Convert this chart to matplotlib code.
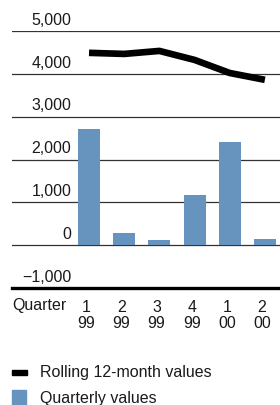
import numpy as np
import matplotlib.pyplot as plt
from matplotlib.patches import Rectangle

# Data
quarters = ['1', '2', '3', '4', '1', '2']
years = ['99', '99', '99', '99', '00', '00']
quarterly = [2720, 280, 110, 1160, 2400, 140]
rolling = [4490, 4465, 4535, 4325, 4020, 3860]
y_ticks = [-1000, 0, 1000, 2000, 3000, 4000, 5000]

plt.rcParams['font.family'] = ['Liberation Sans', 'DejaVu Sans']
fs = 11.5

W, H = 280, 406
fig = plt.figure(figsize=(W / 100, H / 100), dpi=100)

# axes box in pixel coordinates: x 12..280, y from 289 (-1000) to 32 (5000)
left, right, top, bottom = 12, 280, 32, 289
ax = fig.add_axes([left / W, 1 - bottom / H, (right - left) / W, (bottom - top) / H])
ax.set_ylim(-1000, 5000)
ax.set_xlim(-2.19, 5.43)
ax.axis('off')

blue = '#6794bf'
txt = '#1a1a1a'
x = np.arange(len(quarterly))

# gridlines
for v in y_ticks[1:]:
    ax.axhline(v, color='#333333', lw=0.9, zorder=1)
ax.axhline(-1000, color='black', lw=2.4, zorder=3, clip_on=False)

ax.bar(x, quarterly, width=0.625, color=blue, zorder=2)
ax.plot(x, rolling, color='black', lw=4.8, solid_capstyle='butt',
        solid_joinstyle='round', zorder=4)

# y labels sit above their gridlines, right aligned
for v in y_ticks:
    ax.text(62 / W, v + 100, f'{v:,}'.replace('-', '\u2212'),
            transform=ax.get_yaxis_transform(), ha='right', va='bottom',
            fontsize=fs, color=txt)

# x labels
for i, (q, yr) in enumerate(zip(quarters, years)):
    ax.text(i - 0.08, -1260, q + '\n' + yr, ha='center', va='top',
            fontsize=fs, linespacing=1.1, color=txt)
fig.text(12 / W, 1 - 298 / H, 'Quarter', ha='left', va='top', fontsize=fs,
         color=txt)

# legend
fig.patches.append(Rectangle((12 / W, 1 - 375.5 / H), 15 / W, 5 / H,
                             transform=fig.transFigure, color='black'))
fig.text(40 / W, 1 - 373 / H, 'Rolling 12-month values', ha='left',
         va='center', fontsize=fs, color=txt)
fig.patches.append(Rectangle((12 / W, 1 - 406 / H), 14 / W, 15 / H,
                             transform=fig.transFigure, color=blue))
fig.text(40 / W, 1 - 399 / H, 'Quarterly values', ha='left',
         va='center', fontsize=fs, color=txt)

fig.savefig('out.png', dpi=100)
